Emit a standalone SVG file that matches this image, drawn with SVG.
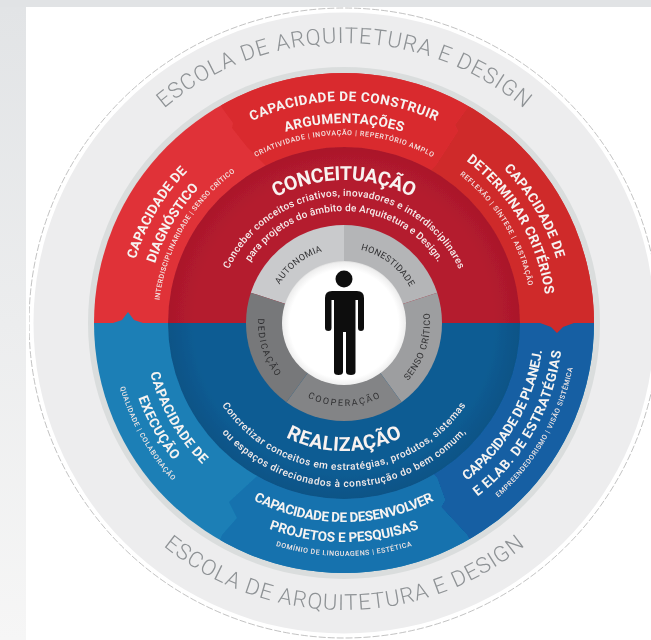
<svg xmlns="http://www.w3.org/2000/svg" width="651" height="640" viewBox="0 0 651 640">
<style>
text{font-family:"Roboto","Liberation Sans",Arial,sans-serif}
.w{fill:#f6f3f1;font-weight:700}
.h{font-size:13.5px}
.s{font-size:7px;font-weight:500;fill:#f3e6e4}
.t{font-size:19.5px;font-weight:700;fill:#f8f2f0}
.d{font-size:10px;font-weight:500;fill:#f5ecea}
.o{font-size:22px;font-weight:300;fill:#8e9295}
.g{font-size:9px;font-weight:400;fill:#2f2f31}
</style>
<defs>
<filter id="soft" x="0" y="0" width="1" height="1"><feGaussianBlur stdDeviation="0.4"/></filter>
<linearGradient id="side" x1="0" y1="0" x2="0" y2="1"><stop offset="0" stop-color="#e2e4e6"/><stop offset="1" stop-color="#f6f6f6"/></linearGradient>
<radialGradient id="ir" gradientUnits="userSpaceOnUse" cx="344" cy="323" r="176"><stop offset="0.85" stop-color="#b41b2f"/><stop offset="1" stop-color="#aa182b"/></radialGradient>
<radialGradient id="ib" gradientUnits="userSpaceOnUse" cx="344" cy="323" r="176"><stop offset="0.85" stop-color="#105c93"/><stop offset="1" stop-color="#0e5386"/></radialGradient>
<radialGradient id="wc" gradientUnits="userSpaceOnUse" cx="344" cy="324" r="64"><stop offset="0.85" stop-color="#fff"/><stop offset="0.96" stop-color="#eeeeee"/><stop offset="1" stop-color="#cfcfcf"/></radialGradient>
<clipPath id="ring"><circle cx="344" cy="323" r="250"/></clipPath>
<clipPath id="top"><rect x="0" y="0" width="651" height="323"/></clipPath>
<clipPath id="bot"><rect x="0" y="323" width="651" height="317"/></clipPath>
<path id="c280" d="M344 43A280 280 0 0 1 344 603"/>
<path id="c222" d="M344 101A222 222 0 0 1 344 545"/>
<path id="c218" d="M344 105A218 218 0 0 1 344 541"/>
<path id="c203" d="M344 120A203 203 0 0 1 344 526"/>
<path id="c200" d="M344 123A200 200 0 0 1 344 523"/>
<path id="c198" d="M344 125A198 198 0 0 1 344 521"/>
<path id="c188" d="M344 135A188 188 0 0 1 344 511"/>
<path id="c186" d="M344 137A186 186 0 0 1 344 509"/>
<path id="c143" d="M344 180A143 143 0 0 1 344 466"/>
<path id="c127" d="M344 196A127 127 0 0 1 344 450"/>
<path id="c112" d="M344 211A112 112 0 0 1 344 435"/>
<path id="c75" d="M344 248A75 75 0 0 1 344 398"/>
<path id="a287" d="M344 610A287 287 0 0 0 344 36"/>
<path id="a233" d="M344 556A233 233 0 0 0 344 90"/>
<path id="a219" d="M344 542A219 219 0 0 0 344 104"/>
<path id="a200" d="M344 523A200 200 0 0 0 344 123"/>
<path id="a199" d="M344 522A199 199 0 0 0 344 124"/>
<path id="a164" d="M344 487A164 164 0 0 0 344 159"/>
<path id="a147" d="M344 470A147 147 0 0 0 344 176"/>
<path id="a128" d="M344 451A128 128 0 0 0 344 195"/>
<path id="a86" d="M344 409A86 86 0 0 0 344 237"/>
<path id="a83" d="M344 406A83 83 0 0 0 344 240"/>
</defs>

<g id="background">
<rect width="651" height="640" fill="#fff"/>
<rect width="651" height="7" fill="#e1e3e5"/>
<rect y="7" width="26" height="633" fill="url(#side)"/>
</g>

<g id="diagram" filter="url(#soft)">
<g id="outer-ring">
<circle cx="344" cy="323" r="310.500" fill="#ededee"/>
<circle cx="344" cy="323" r="315" fill="none" stroke="#a8a8a8" stroke-width="0.7" stroke-dasharray="7 2"/>
<circle cx="344" cy="323" r="256" fill="#dadddd"/>
<text class="o" transform="rotate(-40 344 323)"><textPath href="#c280" textLength="391" lengthAdjust="spacing">ESCOLA DE ARQUITETURA E DESIGN</textPath></text>
<text class="o" transform="rotate(39 344 323)"><textPath href="#a287" textLength="391" lengthAdjust="spacing">ESCOLA DE ARQUITETURA E DESIGN</textPath></text>
</g>

<g id="segments" clip-path="url(#ring)">
<rect x="90" y="70" width="510" height="253" fill="#e03338"/>
<polygon fill="#cf2a2b" points="480,70 468,107 455,125 458,131 436,165 400,200 400,323 600,323 600,70"/>
<polygon fill="#d92b2f" points="205,70 222,108 233,123 232,128 247,147 300,200 400,200 436,165 458,131 455,125 468,107 480,70"/>
<rect x="90" y="323" width="510" height="255" fill="#1b7fb6"/>
<polygon fill="#125fa3" points="437,478 445,500 441,507 467,535 490,580 600,580 600,323 400,323 400,440"/>
<polygon fill="#1672ae" points="255,478 229,502 237,518 222,535 205,580 490,580 467,535 441,507 445,500 437,478 400,440 300,440"/>
<polygon fill="#1b7fb6" points="113,323 122,320 128,312 134,320 143,323"/>
<polygon fill="#cf2a2b" points="540,323 551,327 557,333 563,327 574,323"/>
</g>

<g id="core">
<circle cx="344" cy="323" r="176" fill="url(#ir)" clip-path="url(#top)"/>
<circle cx="344" cy="323" r="176" fill="url(#ib)" clip-path="url(#bot)"/>
</g>

<g id="values">
<path fill="#c9cacc" d="M344 323L250.800 292.700A98 98 0 0 1 344 225Z"/>
<path fill="#b4b5b7" d="M344 323V225A98 98 0 0 1 437.200 292.700Z"/>
<path fill="#9d9ea0" d="M344 323L437.200 292.700A98 98 0 0 1 401.600 402.300Z"/>
<path fill="#838486" d="M344 323L401.600 402.300A98 98 0 0 1 286.400 402.300Z"/>
<path fill="#77787a" d="M344 323L286.400 402.300A98 98 0 0 1 250.800 292.700Z"/>
<text class="g" transform="rotate(-59 344 323)"><textPath href="#c75" textLength="55" lengthAdjust="spacing">AUTONOMIA</textPath></text>
<text class="g" transform="rotate(13 344 323)"><textPath href="#c75" textLength="63" lengthAdjust="spacing">HONESTIDADE</textPath></text>
<text class="g" transform="rotate(-48 344 323)"><textPath href="#a86" textLength="73" lengthAdjust="spacing">SENSO CRÍTICO</textPath></text>
<text class="g" transform="rotate(26 344 323)"><textPath href="#a83" textLength="75" lengthAdjust="spacing">COOPERAÇÃO</textPath></text>
<text class="g" transform="rotate(93 344 323)"><textPath href="#a86" textLength="62" lengthAdjust="spacing">DEDICAÇÃO</textPath></text>
</g>

<g id="person">
<circle cx="344" cy="323" r="62" fill="url(#wc)"/>
<circle cx="344" cy="279" r="8.500" fill="#111"/>
<path fill="#111" d="M332 291H357Q364 291 364 298V328Q364 331 361 331Q358 331 358 328V300H355.500V372Q355.500 375 351 375Q346 375 346 372V332H343V372Q343 375 338.500 375Q334 375 334 372V300H331.500V328Q331.500 331 328.500 331Q325 331 325 328V298Q325 291 332 291Z"/>
</g>

<g id="conceituacao">
<text class="t" transform="rotate(-28.500 344 323)"><textPath href="#c143" textLength="142" lengthAdjust="spacing">CONCEITUAÇÃO</textPath></text>
<text class="d" transform="rotate(-65 344 323)"><textPath href="#c127" textLength="288" lengthAdjust="spacing">Conceber conceitos criativos, inovadores e interdisciplinares</textPath></text>
<text class="d" transform="rotate(-57 344 323)"><textPath href="#c112" textLength="223" lengthAdjust="spacing">para projetos do âmbito de Arquitetura e Design.</textPath></text>
</g>

<g id="realizacao">
<text class="t" transform="rotate(27 344 323)"><textPath href="#a128" textLength="121" lengthAdjust="spacing">REALIZAÇÃO</textPath></text>
<text class="d" transform="rotate(56 344 323)"><textPath href="#a147" textLength="287" lengthAdjust="spacing">Concretizar conceitos em estratégias, produtos, sistemas</textPath></text>
<text class="d" transform="rotate(48 344 323)"><textPath href="#a164" textLength="275" lengthAdjust="spacing">ou espaços direcionados à construção do bem comum,</textPath></text>
</g>

<g id="cap-argumentacoes">
<text class="w h" transform="rotate(-24.500 344 323)"><textPath href="#c222" textLength="190" lengthAdjust="spacing">CAPACIDADE DE CONSTRUIR</textPath></text>
<text class="w h" transform="rotate(-17 344 323)"><textPath href="#c200" textLength="119" lengthAdjust="spacing">ARGUMENTAÇÕES</textPath></text>
<text class="s" transform="rotate(-28 344 323)"><textPath href="#c188" textLength="184" lengthAdjust="spacing">CRIATIVIDADE | INOVAÇÃO | REPERTÓRIO AMPLO</textPath></text>
</g>

<g id="cap-diagnostico">
<text class="w h" transform="rotate(-73 344 323)"><textPath href="#c218" textLength="103" lengthAdjust="spacing">CAPACIDADE DE</textPath></text>
<text class="w h" transform="rotate(-72.500 344 323)"><textPath href="#c198" textLength="88" lengthAdjust="spacing">DIAGNÓSTICO</textPath></text>
<text class="s" transform="rotate(-83 344 323)"><textPath href="#c186" textLength="153" lengthAdjust="spacing">INTERDISCIPLINARIDADE | SENSO CRÍTICO</textPath></text>
</g>

<g id="cap-criterios">
<text class="w h" transform="rotate(46 344 323)"><textPath href="#c222" textLength="105" lengthAdjust="spacing">CAPACIDADE DE</textPath></text>
<text class="w h" transform="rotate(37 344 323)"><textPath href="#c203" textLength="159" lengthAdjust="spacing">DETERMINAR CRITÉRIOS</textPath></text>
<text class="s" transform="rotate(38 344 323)"><textPath href="#c188" textLength="133" lengthAdjust="spacing">REFLEXÃO | SÍNTESE | ABSTRAÇÃO</textPath></text>
</g>

<g id="cap-execucao">
<text class="w h" transform="rotate(75.500 344 323)"><textPath href="#a200" textLength="106" lengthAdjust="spacing">CAPACIDADE DE</textPath></text>
<text class="w h" transform="rotate(70 344 323)"><textPath href="#a219" textLength="72" lengthAdjust="spacing">EXECUÇÃO</textPath></text>
<text class="s" transform="rotate(74 344 323)"><textPath href="#a233" textLength="108" lengthAdjust="spacing">QUALIDADE | COLABORAÇÃO</textPath></text>
</g>

<g id="cap-projetos">
<text class="w h" transform="rotate(27 344 323)"><textPath href="#a199" textLength="187" lengthAdjust="spacing">CAPACIDADE DE DESENVOLVER</textPath></text>
<text class="w h" transform="rotate(20 344 323)"><textPath href="#a219" textLength="153" lengthAdjust="spacing">PROJETOS E PESQUISAS</textPath></text>
<text class="s" transform="rotate(17 344 323)"><textPath href="#a233" textLength="138" lengthAdjust="spacing">DOMÍNIO DE LINGUAGENS | ESTÉTICA</textPath></text>
</g>

<g id="cap-estrategias">
<text class="w h" transform="rotate(-38 344 323)"><textPath href="#a200" textLength="154" lengthAdjust="spacing">CAPACIDADE DE PLANEJ.</textPath></text>
<text class="w h" transform="rotate(-37.600 344 323)"><textPath href="#a219" textLength="172" lengthAdjust="spacing">E ELAB. DE ESTRATÉGIAS</textPath></text>
<text class="s" transform="rotate(-41.500 344 323)"><textPath href="#a233" textLength="152" lengthAdjust="spacing">EMPREENDEDORISMO | VISÃO SISTÊMICA</textPath></text>
</g>
</g>
</svg>
